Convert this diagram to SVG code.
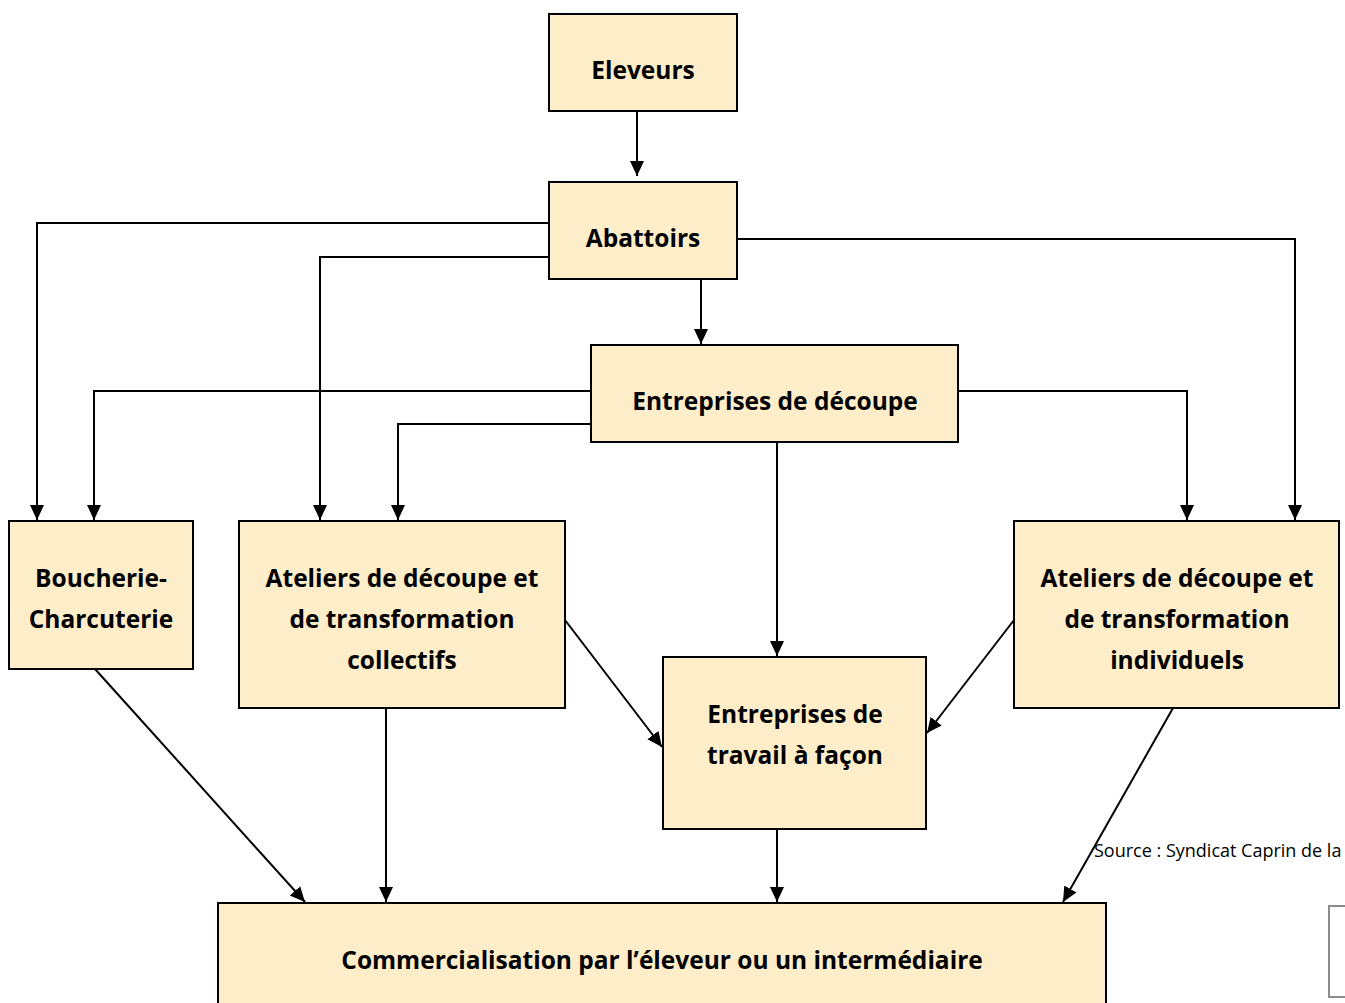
<svg xmlns="http://www.w3.org/2000/svg" width="1345" height="1003" viewBox="0 0 1345 1003">
<style>
.box{fill:#FDEDC8;stroke:#000;stroke-width:2}
.lbl{font-family:"Open Sans",Lato,"Liberation Sans",sans-serif;font-weight:bold;font-size:24.5px;fill:#000;text-anchor:middle}
.src{font-family:"Open Sans",Lato,"Liberation Sans",sans-serif;font-size:18px;fill:#000}
.edge{fill:none;stroke:#000;stroke-width:2;marker-end:url(#arr)}
</style>
<defs>
<marker id="arr" markerUnits="userSpaceOnUse" markerWidth="16" markerHeight="16" viewBox="0 0 16 16" refX="15" refY="8" orient="auto">
<path d="M0,1 L15,8 L0,15 Z" fill="#000"/>
</marker>
</defs>
<rect width="1345" height="1003" fill="#fff"/>
<g id="connectors">
<path class="edge" d="M637,111 V176"/>
<path class="edge" d="M701,279 V344"/>
<path class="edge" d="M549,223 H37 V520"/>
<path class="edge" d="M549,257 H320 V520"/>
<path class="edge" d="M737,239 H1295 V520"/>
<path class="edge" d="M591,391 H94 V520"/>
<path class="edge" d="M591,424 H398 V520"/>
<path class="edge" d="M958,391 H1187 V520"/>
<path class="edge" d="M777,442 V656"/>
<path class="edge" d="M565,620 L662,747"/>
<path class="edge" d="M1014,620 L927,733"/>
<path class="edge" d="M95,669 L305,902"/>
<path class="edge" d="M386,708 V902"/>
<path class="edge" d="M777,829 V902"/>
<path class="edge" d="M1173,708 L1063,902"/>
</g>
<g id="eleveurs"><rect class="box" x="549" y="14" width="188" height="97"/><text class="lbl" x="643" y="79">Eleveurs</text></g>
<g id="abattoirs"><rect class="box" x="549" y="182" width="188" height="97"/><text class="lbl" x="643" y="247">Abattoirs</text></g>
<g id="entreprises-decoupe"><rect class="box" x="591" y="345" width="367" height="97"/><text class="lbl" x="775" y="410">Entreprises de découpe</text></g>
<g id="boucherie"><rect class="box" x="9" y="521" width="184" height="148"/><text class="lbl" x="101" y="587">Boucherie-</text><text class="lbl" x="101" y="628">Charcuterie</text></g>
<g id="ateliers-collectifs"><rect class="box" x="239" y="521" width="326" height="187"/><text class="lbl" x="402" y="587">Ateliers de découpe et</text><text class="lbl" x="402" y="628">de transformation</text><text class="lbl" x="402" y="669">collectifs</text></g>
<g id="ateliers-individuels"><rect class="box" x="1014" y="521" width="325" height="187"/><text class="lbl" x="1177" y="587">Ateliers de découpe et</text><text class="lbl" x="1177" y="628">de transformation</text><text class="lbl" x="1177" y="669">individuels</text></g>
<g id="travail-facon"><rect class="box" x="663" y="657" width="263" height="172"/><text class="lbl" x="795" y="723">Entreprises de</text><text class="lbl" x="795" y="764">travail à façon</text></g>
<g id="commercialisation"><rect class="box" x="218" y="903" width="888" height="110"/><text class="lbl" x="662" y="969">Commercialisation par l’éleveur ou un intermédiaire</text></g>
<text class="src" x="1094" y="857">Source : Syndicat Caprin de la</text>
<rect x="1329" y="906" width="30" height="91" fill="#fff" stroke="#8c8c8c" stroke-width="2"/>
</svg>
